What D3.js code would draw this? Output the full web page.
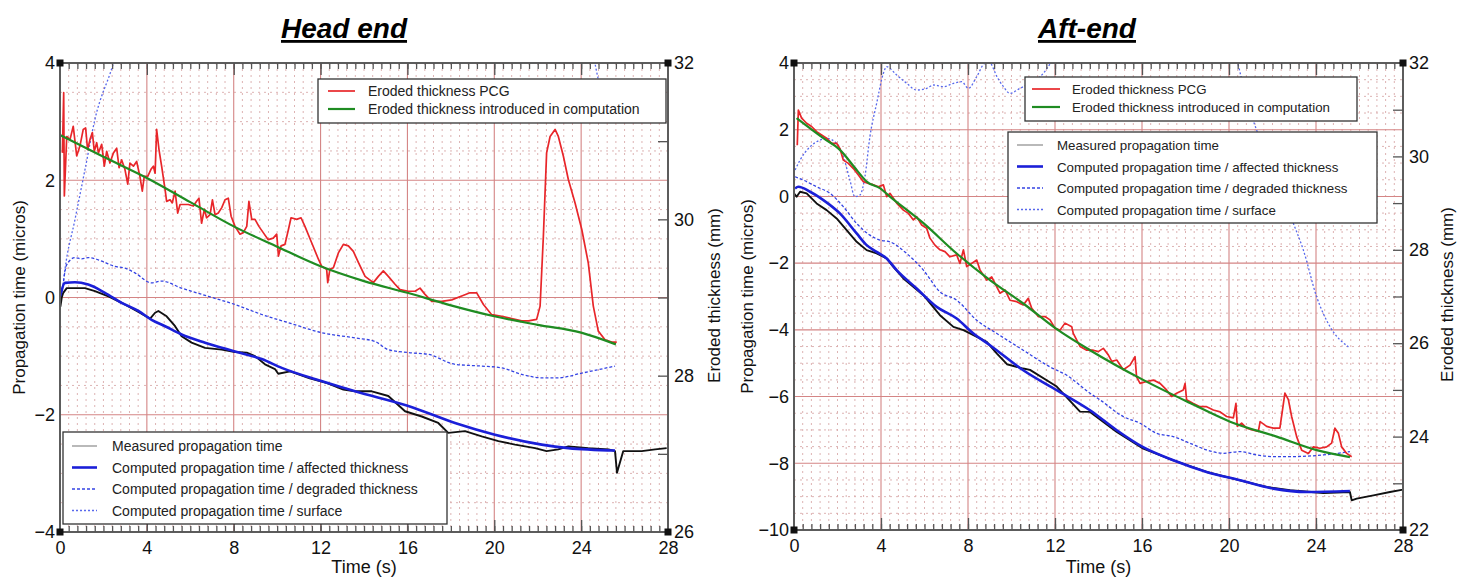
<!DOCTYPE html>
<html lang="en">
<head>
<meta charset="UTF-8">
<title>Propagation time and eroded thickness</title>
<script src="https://cdn.jsdelivr.net/npm/d3@7"></script>
<style>
    body { margin: 0; background: #fff; }
    svg { display: block; font-family: "Liberation Sans", Arial, sans-serif; }
</style>
</head>
<body>
<svg id="chart" width="1457" height="579"></svg>
<script>
    // ---- Head end : [time (s), value] ----
    var headEroded = [[0.11,30.85],[0.17,31.62],[0.20,30.30],[0.31,31.06],[0.46,31.02],[0.61,31.19],[0.77,30.81],[0.92,30.94],
        [1.07,31.15],[1.18,31.17],[1.27,30.89],[1.38,31.02],[1.49,31.11],[1.58,30.87],[1.69,30.98],[1.77,30.85],[1.92,30.96],
        [2.04,30.68],[2.15,30.87],[2.30,30.72],[2.46,30.85],[2.61,30.91],[2.72,30.66],[2.84,30.76],[2.99,30.64],[3.12,30.45],
        [3.22,30.72],[3.38,30.68],[3.53,30.74],[3.68,30.55],[3.79,30.36],[3.88,30.55],[4.04,30.55],[4.19,30.64],[4.30,30.68],
        [4.38,30.59],[4.45,31.15],[4.56,30.89],[4.68,30.68],[4.84,30.38],[4.91,30.23],[5.07,30.25],[5.17,30.21],[5.30,30.36],
        [5.42,30.08],[5.53,30.19],[5.68,30.19],[5.91,30.19],[6.14,30.17],[6.29,30.23],[6.40,30.27],[6.52,29.95],[6.65,30.13],
        [6.75,30.02],[6.91,30.06],[7.02,30.25],[7.14,30.06],[7.29,30.08],[7.45,30.15],[7.60,30.25],[7.75,30.27],[7.88,30.04],
        [8.06,29.91],[8.29,29.81],[8.44,29.83],[8.60,29.91],[8.70,30.23],[8.83,30.00],[8.98,30.00],[9.16,29.91],[9.36,29.83],
        [9.59,29.74],[9.82,29.76],[9.98,29.81],[10.06,29.53],[10.18,29.66],[10.36,29.68],[10.52,29.87],[10.64,30.02],[10.90,30.00],
        [11.10,30.02],[11.28,29.91],[11.59,29.70],[11.90,29.49],[12.05,29.40],[12.28,29.36],[12.33,29.19],[12.43,29.36],[12.59,29.38],
        [12.82,29.57],[13.05,29.68],[13.28,29.66],[13.51,29.59],[13.74,29.45],[14.05,29.27],[14.43,29.19],[14.66,29.27],[14.89,29.34],
        [15.12,29.27],[15.43,29.17],[15.66,29.10],[16.04,29.08],[16.35,29.08],[16.58,29.12],[16.81,29.04],[17.12,28.95],[17.58,28.95],
        [18.04,28.97],[18.50,29.02],[18.88,29.06],[19.19,29.06],[19.50,28.91],[19.88,28.78],[20.34,28.76],[20.80,28.73],[21.26,28.70],
        [21.57,28.70],[21.95,28.72],[22.11,28.89],[22.26,29.78],[22.41,30.85],[22.57,31.06],[22.80,31.15],[22.95,31.06],[23.18,30.81],
        [23.41,30.51],[23.72,30.21],[24.03,29.87],[24.33,29.44],[24.56,28.89],[24.79,28.57],[25.10,28.46],[25.41,28.43],[25.64,28.43]];
    var headComputedThk = [[0,31.08],[2,30.80],[4,30.53],[6,30.22],[8,29.91],[10,29.65],[12,29.40],[14,29.21],[16,29.06],
        [18,28.90],[20,28.76],[22,28.65],[24,28.55],[25.6,28.40]];
    var headMeasured = [[0,-0.05],[0.02,-0.15],[0.08,0.0],[0.15,0.08],[0.31,0.16],[0.69,0.16],[1.15,0.16],[1.61,0.11],[2.23,0.02],
        [2.84,-0.09],[3.53,-0.23],[4.15,-0.36],[4.38,-0.26],[4.53,-0.23],[4.91,-0.32],[5.30,-0.49],[5.60,-0.66],[6.06,-0.77],
        [6.68,-0.86],[7.45,-0.89],[8.06,-0.93],[8.60,-0.94],[8.98,-1.00],[9.44,-1.14],[9.90,-1.22],[10.05,-1.30],[10.60,-1.26],
        [11.50,-1.38],[12.30,-1.46],[13.05,-1.57],[13.59,-1.60],[14.36,-1.60],[15.12,-1.68],[15.89,-1.94],[16.66,-2.03],[17.42,-2.14],
        [17.88,-2.31],[18.65,-2.28],[19.42,-2.37],[20.19,-2.45],[20.96,-2.51],[21.88,-2.57],[22.41,-2.62],[22.95,-2.59],[23.41,-2.54],
        [24.33,-2.57],[25.26,-2.59],[25.56,-2.62],[25.65,-2.99],[25.94,-2.62],[26.79,-2.62],[27.41,-2.59],[27.94,-2.57]];
    var headAffected = [[0,0.02],[0.23,0.25],[0.69,0.26],[1.30,0.22],[2.07,0.08],[2.84,-0.09],[3.61,-0.23],[4.22,-0.38],[4.84,-0.49],
        [5.60,-0.63],[6.68,-0.77],[8.06,-0.92],[9.29,-1.05],[10.21,-1.20],[12.0,-1.42],[13.59,-1.60],[16.04,-1.85],[18.19,-2.14],
        [20.03,-2.34],[22.18,-2.51],[23.41,-2.57],[25.56,-2.61]];
    var headDegraded = [[0.08,0.02],[0.31,0.56],[0.69,0.68],[1.00,0.66],[1.30,0.68],[1.92,0.62],[2.53,0.53],[3.00,0.50],[3.45,0.42],
        [4.22,0.25],[4.68,0.28],[5.60,0.16],[6.83,0.02],[8.06,-0.12],[9.29,-0.29],[10.52,-0.43],[12.05,-0.60],[13.59,-0.69],
        [14.51,-0.75],[15.12,-0.89],[16.04,-0.94],[16.96,-0.97],[18.19,-1.14],[19.42,-1.17],[20.34,-1.20],[21.26,-1.31],[22.18,-1.37],
        [22.95,-1.37],[24.03,-1.29],[25.56,-1.17]];
    var headSurface = [[0.08,0.02],[0.23,0.48],[0.69,1.33],[1.15,2.18],[1.61,3.04],[2.46,4.0],[4.0,6.5],[24.3,5.0],[24.55,4.2],[24.8,3.7]];

    // ---- Aft-end ----
    var aftEroded = [[0.15,30.24],[0.20,30.99],[0.35,30.82],[0.58,30.71],[0.81,30.64],[1.04,30.53],[1.27,30.46],[1.50,30.39],
        [1.73,30.28],[1.96,30.28],[2.11,30.17],[2.27,29.92],[2.50,29.85],[2.73,29.74],[2.96,29.60],[3.19,29.46],[3.42,29.42],
        [3.65,29.39],[3.88,29.35],[4.11,29.39],[4.26,29.14],[4.41,29.21],[4.72,29.00],[5.03,28.85],[5.26,28.78],[5.49,28.64],
        [5.64,28.71],[5.87,28.53],[6.10,28.46],[6.25,28.25],[6.48,28.10],[6.71,28.00],[6.94,27.96],[7.17,27.85],[7.48,27.89],
        [7.63,27.71],[7.79,28.00],[7.94,27.64],[8.17,27.71],[8.40,27.78],[8.55,27.57],[8.86,27.35],[9.09,27.42],[9.24,27.28],
        [9.47,27.07],[9.70,27.14],[9.93,26.92],[10.24,26.89],[10.54,26.82],[10.77,26.96],[10.93,26.75],[11.23,26.57],[11.54,26.57],
        [11.77,26.50],[12.00,26.32],[12.23,26.28],[12.46,26.43],[12.77,26.35],[12.84,26.21],[13.15,25.93],[13.46,25.85],[13.76,25.85],
        [13.99,25.82],[14.22,25.89],[14.45,25.75],[14.61,25.61],[14.84,25.64],[15.14,25.43],[15.45,25.53],[15.68,25.71],[15.75,25.28],
        [15.91,25.14],[16.21,25.18],[16.52,25.21],[16.83,25.14],[17.13,25.00],[17.36,24.86],[17.59,24.93],[17.90,25.00],[17.98,25.14],
        [18.05,24.79],[18.36,24.71],[18.67,24.64],[18.97,24.64],[19.28,24.57],[19.59,24.53],[19.89,24.43],[20.20,24.40],[20.32,24.71],
        [20.38,24.22],[20.58,24.29],[20.81,24.18],[21.12,24.14],[21.35,24.11],[21.43,24.32],[21.73,24.22],[22.04,24.18],[22.34,24.18],
        [22.57,24.93],[22.73,24.79],[22.88,24.43],[23.11,24.00],[23.34,23.71],[23.65,23.64],[23.88,23.78],[24.18,23.75],[24.49,23.78],
        [24.72,23.86],[24.87,24.18],[25.03,24.07],[25.18,23.78],[25.41,23.64],[25.64,23.57]];
    var aftComputedThk = [[0.12,30.82],[1.35,30.39],[2.11,30.14],[2.88,29.71],[3.34,29.46],[3.95,29.32],[4.41,29.14],[5.95,28.57],
        [7.48,27.92],[9.01,27.35],[10.54,26.85],[12.08,26.30],[13.61,25.85],[16.03,25.22],[18.21,24.72],[20.05,24.32],[22.19,24.00],
        [24.03,23.71],[25.56,23.56]];
    var aftMeasured = [[0,0.09],[0.12,-0.01],[0.28,0.14],[0.58,0.09],[1.04,-0.21],[1.50,-0.41],[1.96,-0.66],[2.42,-1.01],[2.88,-1.36],
        [3.34,-1.61],[3.80,-1.71],[4.26,-1.86],[4.57,-2.11],[5.03,-2.46],[5.95,-2.96],[6.71,-3.56],[7.33,-3.91],[7.79,-4.01],
        [8.25,-4.16],[8.86,-4.36],[9.33,-4.71],[9.79,-5.03],[10.54,-5.16],[10.85,-5.20],[12.08,-5.70],[13.15,-6.45],[13.61,-6.46],
        [14.84,-7.06],[16.06,-7.56],[17.44,-7.91],[18.97,-8.26],[20.51,-8.51],[21.73,-8.71],[22.80,-8.81],[24.34,-8.89],[25.56,-8.86],
        [25.64,-9.11],[25.87,-9.06],[26.64,-8.96],[27.40,-8.86],[28.0,-8.79]];
    var aftAffected = [[0.05,0.24],[0.20,0.29],[0.74,0.14],[1.35,-0.11],[2.11,-0.51],[2.88,-1.11],[3.34,-1.46],[3.80,-1.66],
        [4.26,-1.86],[4.72,-2.21],[5.64,-2.76],[6.56,-3.31],[7.48,-3.66],[8.25,-4.11],[9.01,-4.46],[10.54,-5.21],[12.08,-5.81],
        [13.61,-6.41],[14.84,-7.01],[16.03,-7.51],[17.44,-7.91],[18.97,-8.26],[20.51,-8.51],[22.04,-8.76],[23.57,-8.86],[25.56,-8.83]];
    var aftDegraded = [[0.05,0.59],[0.43,0.49],[1.04,0.29],[1.66,0.09],[2.27,-0.31],[2.88,-0.81],[3.49,-1.16],[3.95,-1.31],
        [4.41,-1.36],[5.18,-1.71],[5.95,-2.21],[6.71,-2.86],[7.48,-3.11],[8.40,-3.71],[9.33,-4.11],[10.54,-4.61],[11.77,-5.11],
        [12.54,-5.36],[13.61,-5.90],[14.07,-6.10],[15.14,-6.60],[15.91,-6.80],[16.67,-7.10],[17.44,-7.20],[18.21,-7.40],[18.97,-7.60],
        [19.74,-7.70],[20.51,-7.65],[21.27,-7.75],[22.04,-7.80],[22.80,-7.80],[24.34,-7.75],[25.56,-7.65]];
    var aftSurface = [[0.05,0.79],[0.28,1.09],[0.74,1.49],[1.20,1.69],[1.50,1.74],[1.96,1.59],[2.27,1.19],[2.57,0.49],[2.80,-0.01],
        [3.03,0.04],[3.26,0.59],[3.49,1.79],[3.80,2.79],[4.11,3.69],[4.26,3.89],[4.72,3.64],[5.18,3.39],[5.64,3.19],[6.10,3.24],
        [6.41,3.34],[6.87,3.29],[7.33,3.39],[7.71,3.44],[8.02,3.24],[8.40,3.59],[8.79,3.99],[9.01,3.99],[9.33,3.59],[9.63,3.29],
        [9.93,3.09],[10.39,3.24],[10.85,3.39],[11.46,3.69],[11.85,4.09],[12.3,5.0],[19.8,5.0],[20.4,4.0],[20.8,2.89],[21.27,1.99],
        [22.10,0.60],[22.96,-0.81],[23.42,-1.61],[24.03,-3.01],[24.65,-3.91],[25.49,-4.51]];

    var timeTicks = [0, 4, 8, 12, 16, 20, 24, 28];
    var headLeftTicks = [-4, -2, 0, 2, 4];
    var headRightTicks = [26, 28, 30, 32];
    var aftLeftTicks = [-10, -8, -6, -4, -2, 0, 2, 4];
    var aftRightTicks = [22, 24, 26, 28, 30, 32];

    var legendThickness = ["Eroded thickness PCG", "Eroded thickness introduced in computation"];
    var legendTime = ["Measured propagation time", "Computed propagation time / affected thickness",
        "Computed propagation time / degraded thickness", "Computed propagation time / surface"];

    var RED = "#e8262a", GREEN = "#1f8c22", BLUE = "#1b1fd8", DOT = "#3443e4", DOT2 = "#5868ec";
    var styles = {
        eroded: {color: RED, width: 1.7},
        computed: {color: GREEN, width: 2.2},
        measured: {color: "#111", width: 1.9},
        affected: {color: BLUE, width: 2.6},
        degraded: {color: DOT, width: 1.3, dash: "3,2"},
        surface: {color: DOT2, width: 1.3, dash: "2,2"}
    };

    var svg = d3.select("#chart");

    function drawPanel(p) {
        var x = d3.scaleLinear().domain([0, 28]).range([p.x0, p.x1]);
        var yL = d3.scaleLinear().domain(p.leftDomain).range([p.y1, p.y0]);
        var yR = d3.scaleLinear().domain(p.rightDomain).range([p.y1, p.y0]);
        var g = svg.append("g");

        g.append("clipPath").attr("id", "clip-" + p.id).append("rect")
            .attr("x", p.x0).attr("y", p.y0).attr("width", p.x1 - p.x0).attr("height", p.y1 - p.y0);

        // grid
        var minorX = d3.range(1, 70).filter(function (i) { return i % 10 !== 0; }).map(function (i) { return i * 0.4; });
        var majorX = [4, 8, 12, 16, 20, 24];
        var minorY = d3.range(p.leftDomain[0] * 2 + 1, p.leftDomain[1] * 2).filter(function (i) { return i % 4 !== 0; })
            .map(function (i) { return i / 2; });
        var majorY = p.leftTicks.filter(function (v) { return v > p.leftDomain[0] && v < p.leftDomain[1]; });

        g.selectAll(".vminor").data(minorX).enter().append("line")
            .attr("x1", function (d) { return x(d); }).attr("x2", function (d) { return x(d); })
            .attr("y1", p.y0).attr("y2", p.y1)
            .attr("stroke", "#d9aaaa").attr("stroke-width", 0.9).attr("stroke-dasharray", "2,4");
        g.selectAll(".hminor").data(minorY).enter().append("line")
            .attr("x1", p.x0).attr("x2", p.x1)
            .attr("y1", function (d) { return yL(d); }).attr("y2", function (d) { return yL(d); })
            .attr("stroke", "#d9aaaa").attr("stroke-width", 0.9).attr("stroke-dasharray", "2,4");
        g.selectAll(".vmajor").data(majorX).enter().append("line")
            .attr("x1", function (d) { return x(d); }).attr("x2", function (d) { return x(d); })
            .attr("y1", p.y0).attr("y2", p.y1)
            .attr("stroke", "#d48585").attr("stroke-width", 1.1);
        g.selectAll(".hmajor").data(majorY).enter().append("line")
            .attr("x1", p.x0).attr("x2", p.x1)
            .attr("y1", function (d) { return yL(d); }).attr("y2", function (d) { return yL(d); })
            .attr("stroke", "#d48585").attr("stroke-width", 1.1);

        // series
        var plot = g.append("g").attr("clip-path", "url(#clip-" + p.id + ")");
        var lineL = d3.line().x(function (d) { return x(d[0]); }).y(function (d) { return yL(d[1]); });
        var lineR = d3.line().x(function (d) { return x(d[0]); }).y(function (d) { return yR(d[1]); });
        var smoothL = d3.line().curve(d3.curveMonotoneX).x(function (d) { return x(d[0]); }).y(function (d) { return yL(d[1]); });
        var smoothR = d3.line().curve(d3.curveMonotoneX).x(function (d) { return x(d[0]); }).y(function (d) { return yR(d[1]); });
        var order = [
            [p.surface, smoothL, styles.surface],
            [p.degraded, smoothL, styles.degraded],
            [p.measured, lineL, styles.measured],
            [p.affected, smoothL, styles.affected],
            [p.eroded, lineR, styles.eroded],
            [p.computed, smoothR, styles.computed]
        ];
        order.forEach(function (s) {
            plot.append("path").datum(s[0]).attr("d", s[1])
                .attr("fill", "none").attr("stroke", s[2].color).attr("stroke-width", s[2].width)
                .attr("stroke-linejoin", "round").attr("stroke-dasharray", s[2].dash || null);
        });

        // frame
        g.append("rect").attr("x", p.x0).attr("y", p.y0).attr("width", p.x1 - p.x0).attr("height", p.y1 - p.y0)
            .attr("fill", "none").attr("stroke", "#5c5c5c").attr("stroke-width", 2);

        // inner ticks on top and bottom
        var minorTicks = d3.range(1, 70).map(function (i) { return i * 0.4; });
        function tickAxis(axis, vals, size, ty) {
            var a = g.append("g").attr("transform", "translate(0," + ty + ")")
                .call(axis(x).tickValues(vals).tickSize(size).tickFormat(""));
            a.select(".domain").remove();
            a.selectAll("line").attr("stroke", "#555").attr("stroke-width", 1.3);
        }
        tickAxis(d3.axisTop, minorTicks, 6, p.y1);
        tickAxis(d3.axisTop, majorX, 12, p.y1);
        tickAxis(d3.axisBottom, minorTicks, 6, p.y0);
        tickAxis(d3.axisBottom, majorX, 12, p.y0);

        // right-hand inner ticks (thickness)
        var rMinor = d3.range(p.rightDomain[0] + 1, p.rightDomain[1]);
        var ra = g.append("g").attr("transform", "translate(" + p.x1 + ",0)")
            .call(d3.axisLeft(yR).tickValues(rMinor).tickSize(10).tickFormat(""));
        ra.select(".domain").remove();
        ra.selectAll("line").attr("stroke", "#555").attr("stroke-width", 1.3);

        // labels
        function styleLabels(a) {
            a.select(".domain").remove();
            a.selectAll("text").attr("font-size", 18).attr("fill", "#111")
                .attr("font-family", "'Liberation Sans', Arial, sans-serif");
        }
        var fmt = d3.format("d");
        var bx = g.append("g").attr("transform", "translate(0," + p.y1 + ")")
            .call(d3.axisBottom(x).tickValues(timeTicks).tickFormat(fmt).tickSize(0).tickPadding(9));
        styleLabels(bx);
        var lx = g.append("g").attr("transform", "translate(" + p.x0 + ",0)")
            .call(d3.axisLeft(yL).tickValues(p.leftTicks).tickFormat(fmt).tickSize(0).tickPadding(5));
        styleLabels(lx);
        var rx = g.append("g").attr("transform", "translate(" + p.x1 + ",0)")
            .call(d3.axisRight(yR).tickValues(p.rightTicks).tickFormat(fmt).tickSize(0).tickPadding(6));
        styleLabels(rx);

        // corner markers
        [[p.x0, p.y0], [p.x1, p.y0], [p.x0, p.y1], [p.x1, p.y1]].forEach(function (c) {
            g.append("rect").attr("x", c[0] - 3.5).attr("y", c[1] - 3.5).attr("width", 7).attr("height", 7).attr("fill", "#111");
        });

        // axis titles
        var midY = (p.y0 + p.y1) / 2;
        g.append("text").attr("x", (p.x0 + p.x1) / 2).attr("y", 573).attr("text-anchor", "middle")
            .attr("font-size", 18).attr("fill", "#111").text("Time (s)");
        g.append("text").attr("transform", "translate(" + p.leftTitleX + "," + midY + ") rotate(-90)")
            .attr("text-anchor", "middle").attr("font-size", 17).attr("fill", "#111").text("Propagation time (micros)");
        g.append("text").attr("transform", "translate(" + p.rightTitleX + "," + (midY - 2) + ") rotate(-90)")
            .attr("text-anchor", "middle").attr("font-size", 17).attr("fill", "#111").text("Eroded thickness (mm)");

        // title
        g.append("text").attr("x", p.titleX).attr("y", 38).attr("text-anchor", "middle")
            .attr("font-size", 28).attr("font-weight", "bold").attr("font-style", "italic")
            .attr("text-decoration", "underline").attr("fill", "#000").text(p.title);

        // legends
        drawLegend(g, p.legend1, legendThickness, [styles.eroded, styles.computed]);
        drawLegend(g, p.legend2, legendTime, [
            {color: "#8a8a8a", width: 1.2}, styles.affected, styles.degraded, styles.surface]);
    }

    function drawLegend(g, L, labels, st) {
        g.append("rect").attr("x", L.x).attr("y", L.y).attr("width", L.w).attr("height", L.h)
            .attr("fill", "#fff").attr("stroke", "#333").attr("stroke-width", 1.3);
        labels.forEach(function (lab, i) {
            var ry = L.rows[i];
            g.append("line").attr("x1", L.sx0).attr("x2", L.sx1).attr("y1", ry).attr("y2", ry)
                .attr("stroke", st[i].color).attr("stroke-width", st[i].width)
                .attr("stroke-dasharray", st[i].dash || null);
            g.append("text").attr("x", L.tx).attr("y", ry + 5).attr("font-size", L.fs).attr("fill", "#222").text(lab);
        });
    }

    drawPanel({
        id: "head", title: "Head end", titleX: 344,
        x0: 60, x1: 668, y0: 63, y1: 532,
        leftDomain: [-4, 4], rightDomain: [26, 32],
        leftTicks: headLeftTicks, rightTicks: headRightTicks,
        leftTitleX: 25, rightTitleX: 720,
        eroded: headEroded, computed: headComputedThk, measured: headMeasured,
        affected: headAffected, degraded: headDegraded, surface: headSurface,
        legend1: {x: 318, y: 79, w: 348, h: 44, rows: [91, 109], sx0: 328, sx1: 355, tx: 368, fs: 14},
        legend2: {x: 63, y: 432, w: 384, h: 92, rows: [446, 467.5, 489, 510.5], sx0: 72, sx1: 97, tx: 112, fs: 14}
    });

    drawPanel({
        id: "aft", title: "Aft-end", titleX: 1087,
        x0: 794, x1: 1403, y0: 63, y1: 530,
        leftDomain: [-10, 4], rightDomain: [22, 32],
        leftTicks: aftLeftTicks, rightTicks: aftRightTicks,
        leftTitleX: 753, rightTitleX: 1453,
        eroded: aftEroded, computed: aftComputedThk, measured: aftMeasured,
        affected: aftAffected, degraded: aftDegraded, surface: aftSurface,
        legend1: {x: 1025, y: 77, w: 332, h: 44, rows: [89, 107], sx0: 1032, sx1: 1060, tx: 1072, fs: 13.3},
        legend2: {x: 1008, y: 132, w: 369, h: 91, rows: [145, 166.5, 188, 209.5], sx0: 1017, sx1: 1043, tx: 1057, fs: 13.3}
    });
</script>
</body>
</html>
